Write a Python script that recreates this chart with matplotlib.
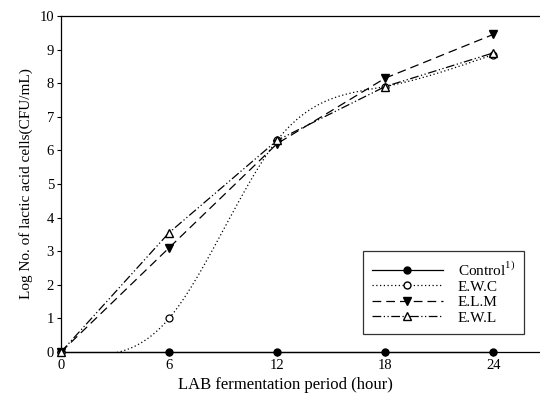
import numpy as np
import matplotlib.pyplot as plt

plt.rcParams['font.family'] = ['Liberation Serif', 'DejaVu Serif']

hours = [0, 6, 12, 18, 24]
control = [0, 0, 0, 0, 0]
ewc = [0, 1.0, 6.3, 7.9, 8.85]
elm = [0, 3.1, 6.2, 8.15, 9.45]
ewl = [0, 3.55, 6.3, 7.9, 8.9]


def natural_spline(x, y, n=200):
    # natural cubic spline through the measured points, for a smooth curve
    x = np.asarray(x, float)
    y = np.asarray(y, float)
    h = np.diff(x)
    m = len(x)
    A = np.zeros((m, m))
    b = np.zeros(m)
    A[0, 0] = A[-1, -1] = 1
    for i in range(1, m - 1):
        A[i, i - 1] = h[i - 1]
        A[i, i] = 2 * (h[i - 1] + h[i])
        A[i, i + 1] = h[i]
        b[i] = 6 * ((y[i + 1] - y[i]) / h[i] - (y[i] - y[i - 1]) / h[i - 1])
    M = np.linalg.solve(A, b)
    xs = np.linspace(x[0], x[-1], n)
    ys = np.empty_like(xs)
    for k, t in enumerate(xs):
        i = min(np.searchsorted(x, t, side='right') - 1, m - 2)
        a, c = x[i + 1] - t, t - x[i]
        ys[k] = (M[i] * a**3 + M[i + 1] * c**3) / (6 * h[i]) \
            + (y[i] / h[i] - M[i] * h[i] / 6) * a \
            + (y[i + 1] / h[i] - M[i + 1] * h[i] / 6) * c
    return xs, ys


fig = plt.figure(figsize=(5.4, 4.0), dpi=100)
ax = fig.add_axes([0.113, 0.12, 0.887, 0.84])

lw = 0.9
ax.plot(hours, control, color='black', lw=lw, marker='o', ms=5,
        label='Control$^{\\mathregular{1)}}$', zorder=4, clip_on=False)

sx, sy = natural_spline(hours, ewc)
ax.plot(sx, sy, color='black', lw=lw, ls=(0, (1, 2)))
ax.plot(hours, ewc, ls='none', marker='o', ms=5, mfc='white', mec='black',
        mew=0.9, clip_on=False, zorder=5)
ax.plot([], [], color='black', lw=lw, ls=(0, (1, 2)), marker='o', ms=5,
        mfc='white', mec='black', label='E.W.C')

ax.plot(hours, elm, color='black', lw=lw, ls=(0, (7, 4)), marker='v', ms=5.5,
        label='E.L.M', clip_on=False, zorder=5)
ax.plot(hours, ewl, color='black', lw=lw, ls=(0, (7, 2, 1, 2, 1, 2)), marker='^',
        ms=5.5, mfc='white', mec='black', label='E.W.L', clip_on=False, zorder=5)

ax.set_xlim(0, 26.6)
ax.set_ylim(0, 10)
ax.set_xticks(hours)
ax.set_yticks(range(0, 11))
ax.spines['right'].set_visible(False)
for s in ax.spines.values():
    s.set_linewidth(0.9)
ax.tick_params(direction='out', length=3, width=0.8, labelsize=10.5, pad=2)

ax.set_xlabel('LAB fermentation period (hour)', fontsize=12)
ax.xaxis.set_label_coords(0.468, -0.075)
ax.set_ylabel('Log No. of lactic acid cells(CFU/mL)', fontsize=11, labelpad=5)

leg = ax.legend(loc='lower right', bbox_to_anchor=(0.967, 0.054), fontsize=11,
                frameon=True, fancybox=False, edgecolor='black', handlelength=4.6,
                labelspacing=0.12, borderpad=0.6, handletextpad=1.0,
                borderaxespad=0)
leg.get_frame().set_linewidth(0.9)

fig.savefig('out.png', dpi=100)
